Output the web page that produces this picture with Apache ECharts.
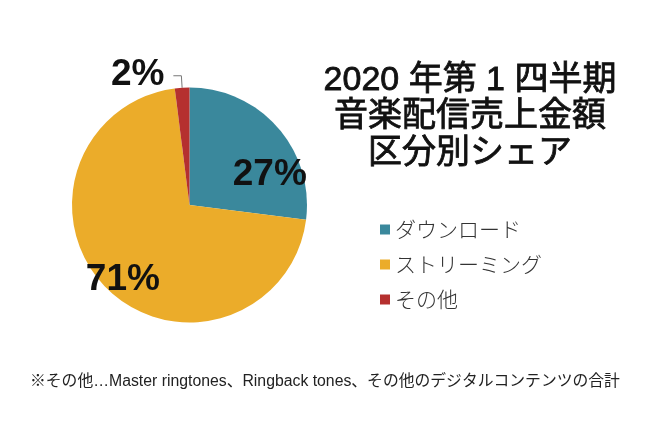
<!DOCTYPE html>
<html><head><meta charset="utf-8">
<script src="https://cdn.jsdelivr.net/npm/echarts@6/dist/echarts.min.js"></script>
<style>html,body{margin:0;padding:0;background:#fff}#c{width:650px;height:434px}</style>
</head><body><div id="c"></div>
<script>
const categories = ['ダウンロード', 'ストリーミング', 'その他'];
const shares = [27, 71, 2];
const colors = ['#3a889c', '#ebac2a', '#b5302f'];
const titleLines = ['2020 年第 1 四半期', '音楽配信売上金額', '区分別シェア'];
const footnote = '※その他…Master ringtones、Ringback tones、その他のデジタルコンテンツの合計';

const chart = echarts.init(document.getElementById('c'), null, {renderer: 'canvas'});
const labelShift = [[34, 11], [-23, 31], [0, -1]];
chart.setOption({
  animation: false,
  backgroundColor: '#ffffff',
  color: colors,
  title: [{
    text: titleLines.join('\n'),
    left: 465, top: 57, textAlign: 'center',
    textStyle: {fontFamily: 'Liberation Sans, Noto Sans CJK JP', fontSize: 34, fontWeight: 'normal', color: '#111', lineHeight: 36.5,
      textBorderColor: '#111', textBorderWidth: 0.8}
  }, {
    text: footnote,
    left: 25, top: 369,
    textStyle: {fontFamily: 'Liberation Sans, Noto Sans CJK JP', fontSize: 15.8, fontWeight: 'normal', color: '#222'}
  }],
  legend: {
    orient: 'vertical', left: 375, top: 214,
    itemWidth: 10, itemHeight: 10, itemGap: 14, icon: 'rect',
    data: categories,
    textStyle: {fontFamily: 'Noto Sans CJK JP', fontSize: 21, color: '#333', fontWeight: 300}
  },
  series: [{
    type: 'pie',
    center: [189.5, 205],
    radius: 117.5,
    startAngle: 90,
    clockwise: true,
    avoidLabelOverlap: false,
    data: categories.map((name, i) => ({
      name, value: shares[i],
      label: i < 2 ? {position: 'inner'} : {position: 'outside', distanceToLabelLine: 9},
      labelLine: {show: i === 2, length: 12, length2: 8, lineStyle: {color: '#777', width: 1}}
    })),
    label: {
      formatter: '{c}%',
      fontFamily: 'Liberation Sans', fontWeight: 'bold', fontSize: 37, color: '#111'
    },
    labelLayout: function (p) {
      const s = labelShift[p.dataIndex];
      return {dx: s[0], dy: s[1]};
    },
    itemStyle: {borderWidth: 0}
  }]
});
</script></body></html>
